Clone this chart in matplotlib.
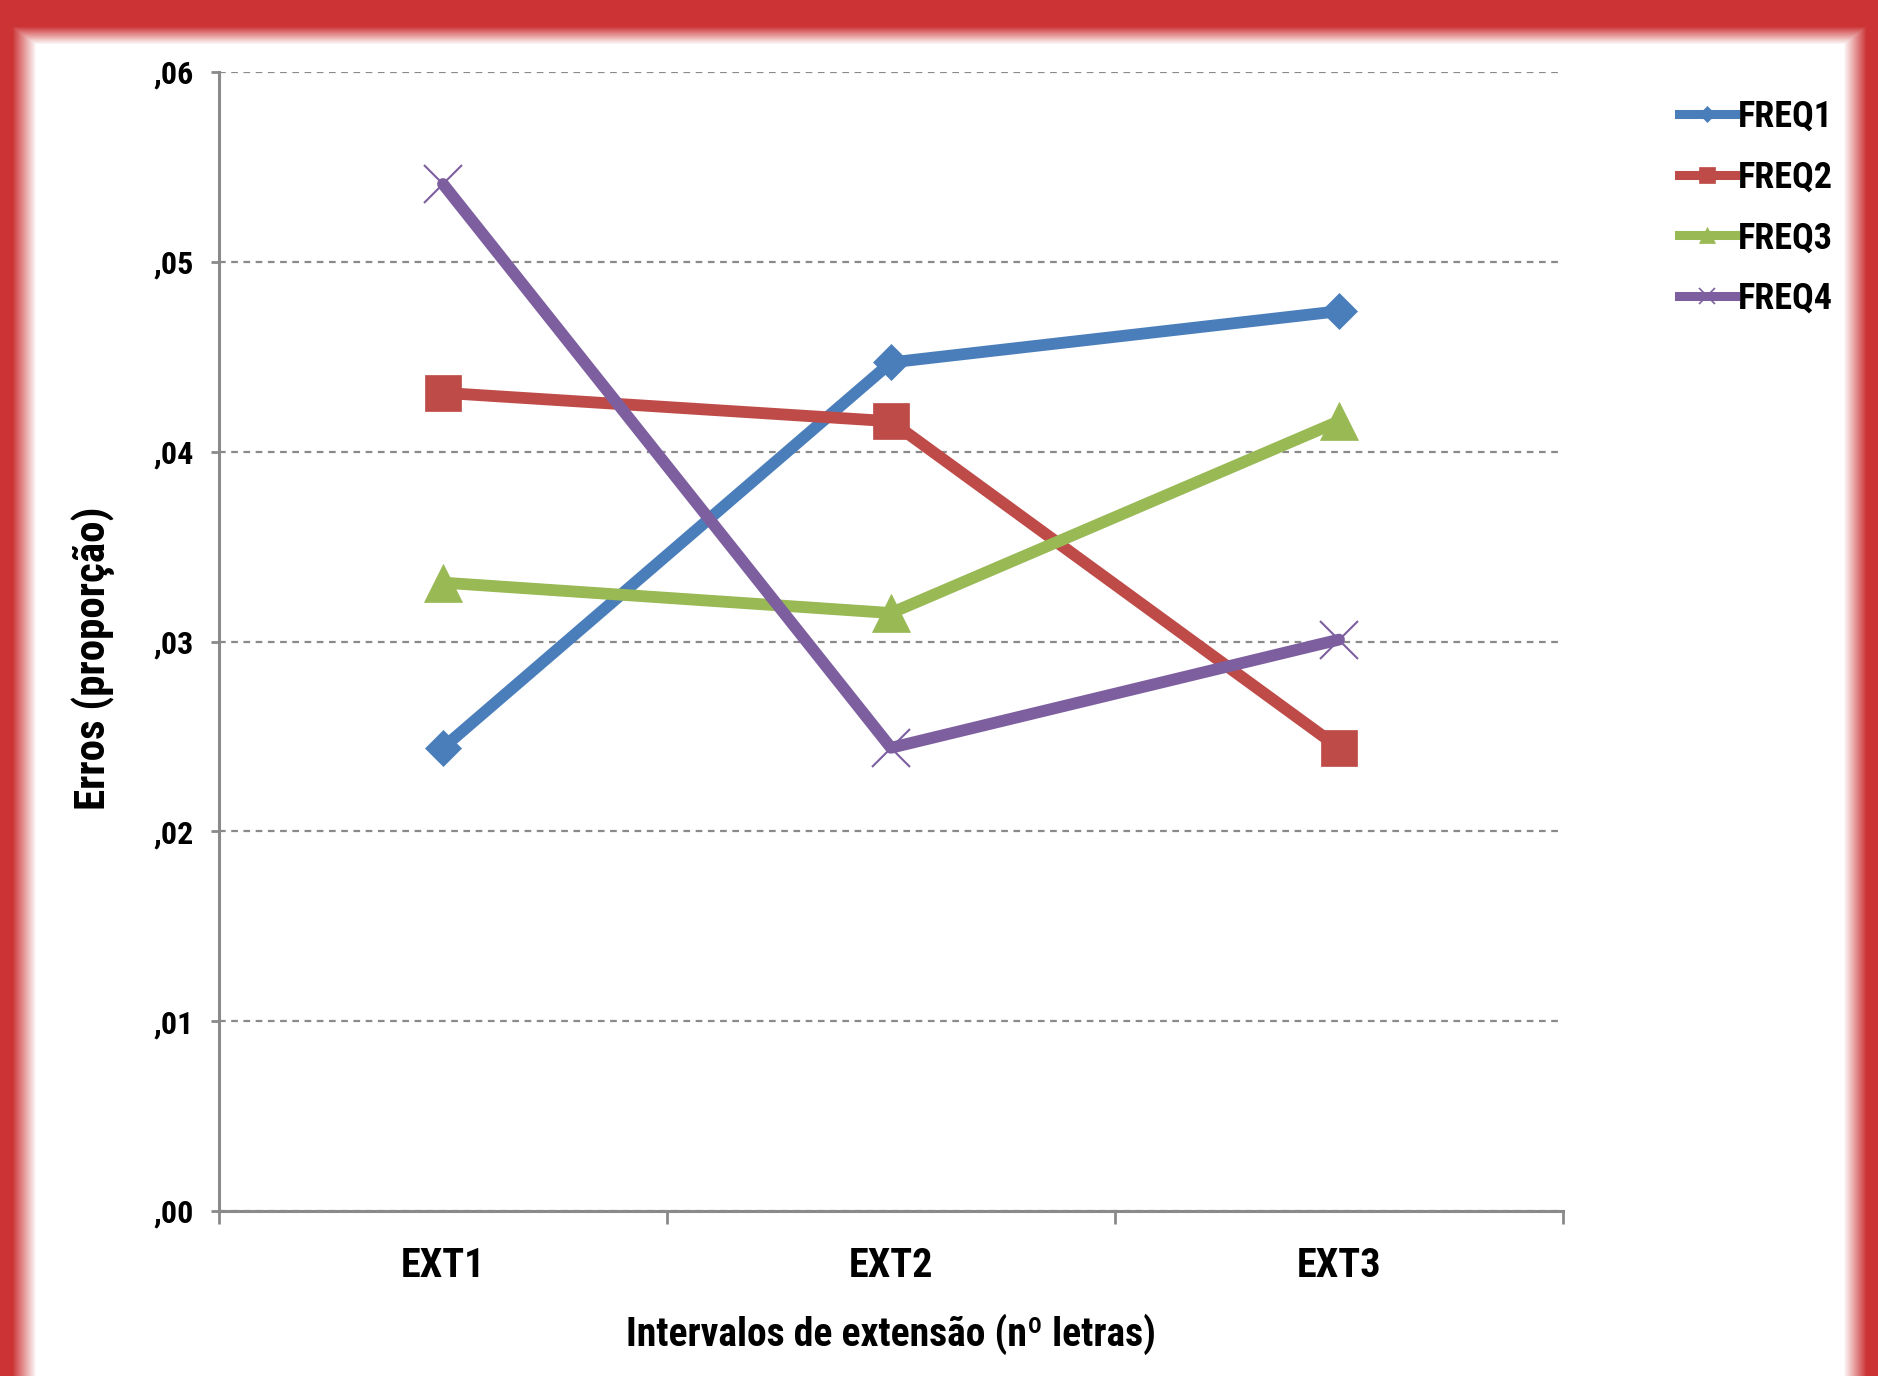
import numpy as np
import matplotlib
matplotlib.use("Agg")
import matplotlib.pyplot as plt
from matplotlib.lines import Line2D
from matplotlib.ticker import FuncFormatter, FixedLocator

# Data
categories = ["EXT1", "EXT2", "EXT3"]
freq1 = [0.0244, 0.0447, 0.0474]
freq2 = [0.0431, 0.0416, 0.0244]
freq3 = [0.0331, 0.0315, 0.0416]
freq4 = [0.0541, 0.0244, 0.0301]
series_names = ["FREQ1", "FREQ2", "FREQ3", "FREQ4"]
y_ticks = [0.0, 0.01, 0.02, 0.03, 0.04, 0.05, 0.06]

colors = ["#4A7EBB", "#BE4B48", "#98B954", "#7D5FA0"]
markers = ["D", "s", "^", "x"]
msizes = [18, 26, 27, 27]

# narrow bold font, like Arial Narrow
plt.rcParams["font.family"] = ["Roboto Condensed", "Archivo Narrow", "DejaVu Sans"]
plt.rcParams["font.weight"] = "bold"

W, H = 1878, 1376
fig = plt.figure(figsize=(W / 100, H / 100), dpi=100, facecolor="white")

# red blurred frame
bg = fig.add_axes([0, 0, 1, 1], zorder=-10)
bg.axis("off")
xx = np.arange(W)[None, :]
yy = np.arange(H)[:, None]
a_left = np.clip((36 - xx) / 24.0, 0, 1)
a_right = np.clip((xx - 1843) / 23.0, 0, 1)
a_top = np.clip((44 - yy) / 18.0, 0, 1)
alpha = np.maximum(np.maximum(a_left, a_right), a_top)
alpha = np.broadcast_to(alpha, (H, W))
img = np.ones((H, W, 4))
img[..., 0] = 0.80
img[..., 1] = 0.20
img[..., 2] = 0.21
img[..., 3] = alpha
bg.imshow(img, extent=[0, 1, 0, 1], aspect="auto", interpolation="nearest")
bg.set_xlim(0, 1)
bg.set_ylim(0, 1)

ax = fig.add_axes([219 / W, 1 - 1211 / H, 1344 / W, 1139 / H])
ax.patch.set_alpha(0)

x = np.arange(len(categories))
for vals, name, c, m, ms in zip([freq1, freq2, freq3, freq4], series_names, colors, markers, msizes):
    ax.plot(x, vals, color=c, lw=8.5, marker=m, markersize=ms,
            markeredgewidth=1.5 if m == "x" else 0.5, markeredgecolor=c,
            solid_capstyle="round", label=name, zorder=3)

ax.set_xlim(-0.5, 2.5)
ax.set_ylim(0, 0.06)
ax.set_yticks(y_ticks)
ax.yaxis.set_major_formatter(FuncFormatter(lambda v, p: ",%02d" % int(round(v * 100))))
ax.yaxis.grid(True, color="#8A8A8A", lw=1.6, linestyle=(0, (3, 2.5)))
ax.set_axisbelow(True)

ax.set_xticks(x)
ax.set_xticklabels(categories)
ax.xaxis.set_minor_locator(FixedLocator([-0.5, 0.5, 1.5, 2.5]))
ax.tick_params(axis="x", which="major", length=0, pad=26, labelsize=29)
ax.tick_params(axis="x", which="minor", length=9, width=2, color="#8A8A8A", direction="out")
ax.tick_params(axis="y", length=6, width=2, color="#8A8A8A", pad=12, labelsize=23)

for s in ["top", "right"]:
    ax.spines[s].set_visible(False)
for s in ["left", "bottom"]:
    ax.spines[s].set_color("#8A8A8A")
    ax.spines[s].set_linewidth(2.2)

ax.set_xlabel("Intervalos de extensão (nº letras)", fontsize=28.5, fontweight="bold")
ax.xaxis.set_label_coords(0.5, -0.09)
ax.set_ylabel("Erros (proporção)", fontsize=31, fontweight="bold", va="center")
ax.yaxis.set_label_coords(-0.094, 0.485)

handles = [Line2D([0], [0], color=c, lw=6.5, marker=m, markersize=ms * 0.45,
                  markeredgewidth=1.2 if m == "x" else 0.5, markeredgecolor=c)
           for c, m, ms in zip(colors, markers, msizes)]
fig.legend(handles, series_names, loc="upper left",
           bbox_to_anchor=(1679 / W, 1 - 99 / H), frameon=False,
           fontsize=26, handlelength=1.55, handletextpad=0.08,
           labelspacing=0.68, borderpad=0, borderaxespad=0)

fig.savefig("out.png", dpi=100, facecolor="white")
